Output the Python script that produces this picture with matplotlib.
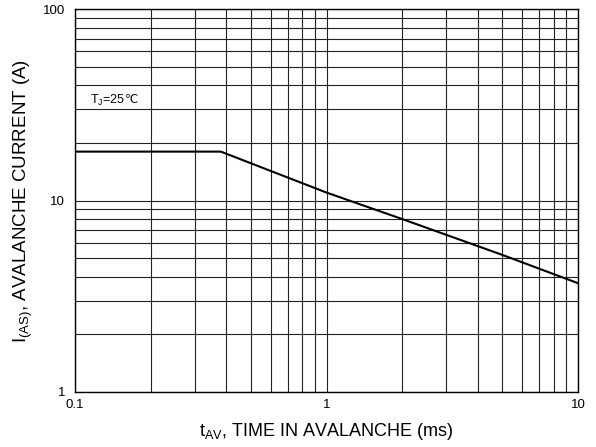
import matplotlib
matplotlib.use("Agg")
import matplotlib.pyplot as plt
from matplotlib.ticker import LogLocator, FixedLocator, FixedFormatter, NullFormatter

plt.rcParams['font.family'] = ['Liberation Sans', 'DejaVu Sans']
plt.rcParams['mathtext.fontset'] = 'custom'
plt.rcParams['mathtext.rm'] = 'Liberation Sans'
plt.rcParams['mathtext.it'] = 'Liberation Sans'

t_ms = [0.1, 0.38, 1.0, 2.0, 5.0, 10.0]
i_as = [18.0, 18.0, 11.0, 8.0, 5.2, 3.7]

x_ticks = [0.1, 1, 10]
x_labels = ['0.1', '1', '10']
y_ticks = [1, 10, 100]
y_labels = ['1', '10', '100']

fig = plt.figure(figsize=(5.96, 4.47), dpi=100)
ax = fig.add_axes([75/596, 1-392/447, 503/596, 383/447])
ax.set_xscale('log')
ax.set_yscale('log')
ax.set_xlim(0.1, 10)
ax.set_ylim(1, 100)

ax.xaxis.set_major_locator(FixedLocator(x_ticks))
ax.xaxis.set_major_formatter(FixedFormatter(x_labels))
ax.yaxis.set_major_locator(FixedLocator(y_ticks))
ax.yaxis.set_major_formatter(FixedFormatter(y_labels))
ax.xaxis.set_minor_locator(LogLocator(base=10, subs=range(2, 10), numticks=20))
ax.yaxis.set_minor_locator(LogLocator(base=10, subs=range(2, 10), numticks=20))
ax.xaxis.set_minor_formatter(NullFormatter())
ax.yaxis.set_minor_formatter(NullFormatter())

ax.grid(True, which='both', color='#222222', linewidth=0.8)
ax.tick_params(which='both', length=0, labelsize=9.5)
ax.tick_params(axis='x', pad=5)
ax.tick_params(axis='y', pad=7)
for s in ax.spines.values():
    s.set_linewidth(1.0)

ax.plot(t_ms, i_as, color='black', linewidth=1.5, zorder=3)

t1 = ax.text(0.1147, 33.5, r'T$_{\mathregular{J}}$=25', fontsize=9, va='center', ha='left')
ax.annotate('℃', xy=(1, 0.5), xycoords=t1, va='center', ha='left',
            fontsize=8.5, family=['DejaVu Sans'])

ax.set_xlabel(r't$_{\mathregular{AV}}$, TIME IN AVALANCHE (ms)', fontsize=13, labelpad=7)
ax.set_ylabel(r'I$_{\mathregular{(AS)}}$, AVALANCHE CURRENT (A)', fontsize=13.5, labelpad=6)

fig.savefig('out.png', dpi=100)
